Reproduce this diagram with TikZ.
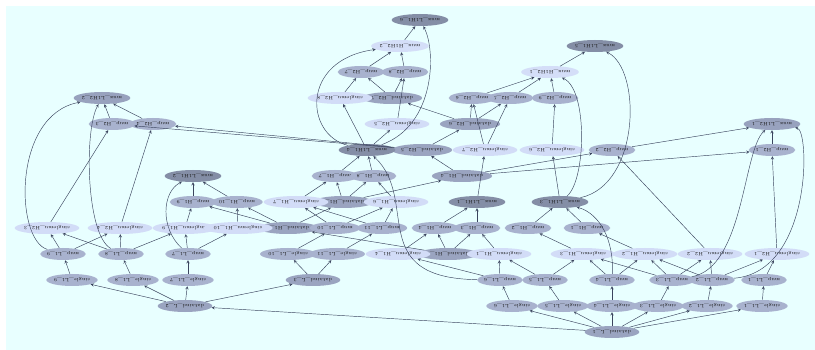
\documentclass[tikz,border=0pt]{standalone}
\usepackage{tikz}
\usetikzlibrary{shapes.geometric}
\definecolor{bgcyan}{RGB}{232,255,255}
\definecolor{edgecol}{RGB}{58,68,94}
\definecolor{muxdark}{RGB}{132,142,166}
\definecolor{muxmid}{RGB}{152,162,190}
\definecolor{muxlight}{RGB}{212,222,248}
\definecolor{mupcol}{RGB}{168,178,206}
\definecolor{smucol}{RGB}{210,220,247}
\definecolor{datacol}{RGB}{154,164,192}

\begin{document}
\begin{tikzpicture}[x=1pt, y=-1pt,
        var/.style={ellipse, rotate=180, inner sep=0pt, minimum height=12pt,
            font=\fontsize{4.8}{5}\selectfont, text=black!90},
        muxa/.style={var, fill=muxdark, minimum width=40pt},
        muxb/.style={var, fill=muxmid, minimum width=40pt},
        muxc/.style={var, fill=muxlight, minimum width=42pt},
        mup/.style={var, fill=mupcol, minimum width=33pt},
        sgl/.style={var, fill=mupcol, minimum width=36pt},
        smu/.style={var, fill=smucol, minimum width=46pt},
        din/.style={var, fill=datacol, minimum width=42pt},
        dep/.style={-stealth, draw=edgecol, line width=0.45pt}
    ]
        \newcommand{\dep}{edge[dep]}

        \fill[white] (0,0) rectangle (815,350);
        \fill[bgcyan] (6,6) rectangle (815,350);
        \useasboundingbox (0,0) rectangle (815,350);

        % data nodes
        \node[din] (dinl1) at (612,332) {dataind\_L\_1};
        \node[din] (dinl2) at (185,306) {dataind\_L\_2};
        \node[din] (dinl3) at (313,280) {dataind\_L\_3};
        \node[din] (dina1) at (448,254) {dataind\_H1\_1};
        \node[din] (dina2) at (288,228) {dataind\_H1\_2};
        \node[din] (dina3) at (343,202) {dataind\_H1\_3};
        \node[din] (dina4) at (462,176) {dataind\_H1\_4};
        \node[din] (dinb5) at (422,150) {dataind\_H2\_5};
        \node[din] (dinb6) at (470,124) {dataind\_H2\_6};
        \node[din] (dinb7) at (392,98) {dataind\_H2\_7};

        % single_L1
        \node[sgl] (sgl1) at (762,306) {single\_L1\_1};
        \node[sgl] (sgl2) at (707,306) {single\_L1\_2};
        \node[sgl] (sgl3) at (658,306) {single\_L1\_3};
        \node[sgl] (sgl4) at (612,306) {single\_L1\_4};
        \node[sgl] (sgl5) at (563,306) {single\_L1\_5};
        \node[sgl] (sgl6) at (512,306) {single\_L1\_6};
        \node[sgl] (sgl7) at (188,280) {single\_L1\_7};
        \node[sgl] (sgl8) at (133,280) {single\_L1\_8};
        \node[sgl] (sgl9) at (72,280) {single\_L1\_9};
        \node[sgl] (sgl10) at (288,254) {single\_L1\_10};
        \node[sgl] (sgl11) at (337,254) {single\_L1\_11};

        % mup_L1
        \node[mup] (mupl1) at (764,280) {mup\_L1\_1};
        \node[mup] (mupl2) at (712,280) {mup\_L1\_2};
        \node[mup] (mupl3) at (672,280) {mup\_L1\_3};
        \node[mup] (mupl4) at (612,280) {mup\_L1\_4};
        \node[mup] (mupl5) at (545,280) {mup\_L1\_5};
        \node[mup] (mupl6) at (500,280) {mup\_L1\_6};
        \node[mup] (mupl7) at (188,254) {mup\_L1\_7};
        \node[mup] (mupl8) at (121,254) {mup\_L1\_8};
        \node[mup] (mupl9) at (63,254) {mup\_L1\_9};
        \node[mup] (mupl10) at (335,228) {mup\_L1\_10};
        \node[mup] (mupl11) at (382,228) {mup\_L1\_11};

        % singlemu_H1 / singlemu_H2
        \node[smu] (smua1) at (499,254) {singlemu\_H1\_1};
        \node[smu] (smua2) at (645,254) {singlemu\_H1\_2};
        \node[smu] (smua3) at (583,254) {singlemu\_H1\_3};
        \node[smu] (smua4) at (398,254) {singlemu\_H1\_4};
        \node[smu] (smua6) at (396,202) {singlemu\_H1\_6};
        \node[smu] (smua7) at (296,202) {singlemu\_H1\_7};
        \node[smu] (smua9) at (185,228) {singlemu\_H1\_9};
        \node[smu] (smua10) at (238,228) {singlemu\_H1\_10};
        \node[smu] (smub1) at (777,254) {singlemu\_H2\_1};
        \node[smu] (smub2) at (710,254) {singlemu\_H2\_2};
        \node[smu] (smub3) at (47,228) {singlemu\_H2\_3};
        \node[smu] (smub4) at (120,228) {singlemu\_H2\_4};
        \node[smu] (smub5) at (397,124) {singlemu\_H2\_5};
        \node[smu] (smub6) at (552,150) {singlemu\_H2\_6};
        \node[smu] (smub7) at (485,150) {singlemu\_H2\_7};
        \node[smu] (smub8) at (340,98) {singlemu\_H2\_8};

        % mup_H1 / mup_H2
        \node[mup] (mupa1) at (587,228) {mup\_H1\_1};
        \node[mup] (mupa2) at (528,228) {mup\_H1\_2};
        \node[mup] (mupa3) at (477,228) {mup\_H1\_3};
        \node[mup] (mupa4) at (435,228) {mup\_H1\_4};
        \node[mup] (mupa7) at (335,176) {mup\_H1\_7};
        \node[mup] (mupa8) at (373,176) {mup\_H1\_8};
        \node[mup] (mupa9) at (193,202) {mup\_H1\_9};
        \node[mup] (mupa10) at (237,202) {mup\_H1\_10};
        \node[mup] (mupb1) at (772,150) {mup\_H2\_1};
        \node[mup] (mupb2) at (612,150) {mup\_H2\_2};
        \node[mup] (mupb3) at (112,124) {mup\_H2\_3};
        \node[mup] (mupb4) at (153,124) {mup\_H2\_4};
        \node[mup] (mupb5) at (510,98) {mup\_H2\_5};
        \node[mup] (mupb6) at (472,98) {mup\_H2\_6};
        \node[mup] (mupb7) at (361,72) {mup\_H2\_7};
        \node[mup] (mupb8) at (405,72) {mup\_H2\_8};
        \node[mup] (mupb9) at (555,98) {mup\_H2\_9};

        % mux nodes
        \node[muxa] (mxa1) at (477,202) {mux\_L1H1\_1};
        \node[muxa] (mxa2) at (193,176) {mux\_L1H1\_2};
        \node[muxa] (mxa3) at (560,202) {mux\_L1H1\_3};
        \node[muxa] (mxa4) at (367,150) {mux\_L1H1\_4};
        \node[muxa] (mxa5) at (595,46) {mux\_L1H1\_5};
        \node[muxa] (mxa6) at (420,20) {mux\_L1H1\_6};
        \node[muxb] (mxb1) at (772,124) {mux\_L1H2\_1};
        \node[muxb] (mxb2) at (102,98) {mux\_L1H2\_2};
        \node[muxc] (mxc1) at (550,72) {mux\_H1H2\_1};
        \node[muxc] (mxc2) at (400,46) {mux\_H1H2\_2};

        \draw[dep]
            (dinl1) \dep (dinl2)
            (dinl1) \dep (sgl1) (dinl1) \dep (sgl2) (dinl1) \dep (sgl3)
            (dinl1) \dep (sgl4) (dinl1) \dep (sgl5) (dinl1) \dep (sgl6)
            (dinl2) \dep (dinl3)
            (dinl2) \dep (sgl7) (dinl2) \dep (sgl8) (dinl2) \dep (sgl9)
            (dinl3) \dep (sgl10) (dinl3) \dep (sgl11)
            (sgl1) \dep (mupl1) (sgl2) \dep (mupl2) (sgl3) \dep (mupl3)
            (sgl4) \dep (mupl4) (sgl5) \dep (mupl5) (sgl6) \dep (mupl6)
            (sgl7) \dep (mupl7) (sgl8) \dep (mupl8) (sgl9) \dep (mupl9)
            (sgl10) \dep (mupl10) (sgl11) \dep (mupl11)
            % first hidden layer
            (mupl9) \dep (smub3) (mupl9) \dep (smub4)
            (mupl8) \dep (smub3) (mupl8) \dep (smub4) (mupl8) \dep (smua9)
            (mupl7) \dep (smua9) (mupl7) \dep (smua10)
            (mupl10) \dep (smua7) (mupl10) \dep (smua6)
            (mupl11) \dep (smua7) (mupl11) \dep (smua6)
            (mupl6) \dep (smua4) (mupl6) \dep (smua1)
            (mupl5) \dep (smua1) (mupl5) \dep (smua3)
            (mupl4) \dep (smua3) (mupl4) \dep (smua2)
            (mupl3) \dep (smua2) (mupl3) \dep (smub2) (mupl3) \dep (smua3)
            (mupl2) \dep (smub2) (mupl2) \dep (smub1) (mupl2) \dep (smua2)
            (mupl1) \dep (smub1)
            (smub3) \dep (mupb3) (smub4) \dep (mupb4)
            (smua9) \dep (mupa9) (smua10) \dep (mupa10)
            (smua7) \dep (mupa7) (smua6) \dep (mupa8)
            (smua4) \dep (mupa4) (smua1) \dep (mupa3)
            (smua3) \dep (mupa2) (smua2) \dep (mupa1)
            (smub2) \dep (mupb2) (smub1) \dep (mupb1)
            % data chain
            (dina1) \dep (dina2) (dina1) \dep (mupa4) (dina1) \dep (mupa3)
            (dina2) \dep (dina3) (dina2) \dep (mupa9) (dina2) \dep (mupa10)
            (dina3) \dep (dina4) (dina3) \dep (mupa7) (dina3) \dep (mupa8)
            (dina4) \dep (dinb5) (dina4) \dep (mupb2) (dina4) \dep (mupb1)
            (dinb5) \dep (dinb6) (dinb5) \dep (mupb3) (dinb5) \dep (mupb4)
            (dinb6) \dep (dinb7) (dinb6) \dep (mupb6) (dinb6) \dep (mupb5)
            (dinb7) \dep (mupb7) (dinb7) \dep (mupb8)
            % mux layer
            (mupa9) \dep (mxa2) (mupa10) \dep (mxa2)
            (mupa7) \dep (mxa4) (mupa8) \dep (mxa4)
            (mupa4) \dep (mxa1) (mupa3) \dep (mxa1)
            (mupa2) \dep (mxa3) (mupa1) \dep (mxa3)
            (mupb3) \dep (mxb2) (mupb4) \dep (mxb2)
            (mupb1) \dep (mxb1) (mupb2) \dep (mxb1)
            (mxa4) \dep (smub5) (mxa4) \dep (smub8)
            (mxa1) \dep (smub7) (mxa3) \dep (smub6)
            (smub8) \dep (mupb7) (smub5) \dep (mupb8)
            (smub7) \dep (mupb6) (smub7) \dep (mupb5) (smub6) \dep (mupb9)
            (mupb7) \dep (mxc2) (mupb8) \dep (mxc2)
            (mupb6) \dep (mxc1) (mupb5) \dep (mxc1) (mupb9) \dep (mxc1)
            (mxc2) \dep (mxa6) (mxc1) \dep (mxa5)
            ;
        % long curved connectors
        \draw[dep] (mupl9) .. controls (15,240) and (12,115) .. (mxb2);
        \draw[dep] (mupl8) .. controls (86,235) and (84,130) .. (mxb2);
        \draw[dep] (mupl7) .. controls (160,228) and (162,192) .. (mxa2);
        \draw[dep] (mupl6) .. controls (365,278) and (420,200) .. (mxa4);
        \draw[dep] (mupl4) .. controls (614,240) and (600,214) .. (mxa3);
        \draw[dep] (mupl3) .. controls (744,268) and (743,150) .. (mxb1);
        \draw[dep] (mupl2) .. controls (812,272) and (810,130) .. (mxb1);
        \draw[dep] (mxa3) .. controls (640,185) and (642,70) .. (mxa5);
        \draw[dep] (mxa3) .. controls (586,180) and (588,90) .. (mxc1);
        \draw[dep] (mxa4) .. controls (305,135) and (300,60) .. (mxc2);
        \draw[dep] (mxa4) .. controls (436,125) and (436,50) .. (mxa6);
    \end{tikzpicture}
\end{document}
